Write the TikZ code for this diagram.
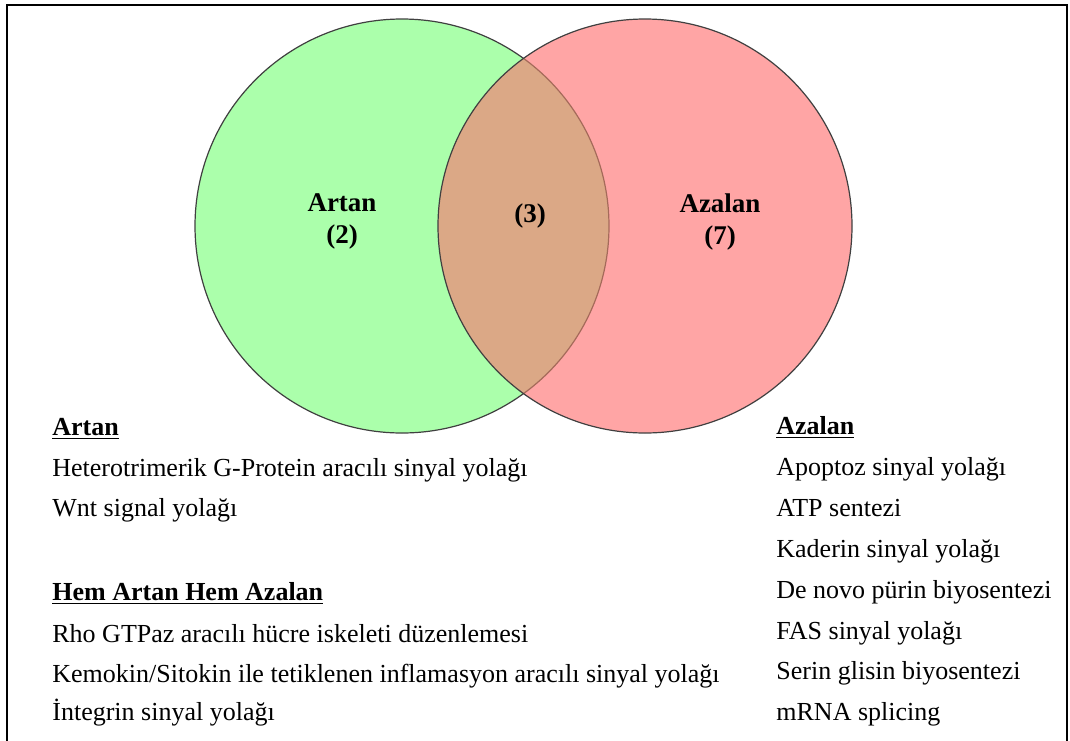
\documentclass[tikz,border=0pt]{standalone}
\usepackage{fontspec}
\setmainfont{Liberation Serif}
\definecolor{artanGreen}{HTML}{ABFFAB}
\definecolor{azalanRed}{HTML}{FFA5A5}
\definecolor{ortakMix}{HTML}{DBA886}
\definecolor{ortakEdge}{HTML}{A56A5A}
\tikzset{
  lbl/.style={font=\fontsize{13.5}{16}\selectfont\bfseries, align=center},
  item/.style={anchor=base west, inner sep=0pt, font=\fontsize{13}{15}\selectfont},
  head/.style={item, font=\fontsize{13}{15}\selectfont\bfseries}
}
\begin{document}
\begin{tikzpicture}[x=0.5pt,y=-0.5pt]
  \useasboundingbox (0,0) rectangle (1070,740);
  \begin{scope}
   \clip (0,0) rectangle (1070,740);
   \draw[line width=1pt] (7,5) rectangle (1067,760);
  \end{scope}
  % venn
  \draw[fill=artanGreen,draw=black!75,line width=0.6pt] (402,226) circle [radius=207];
  \fill[azalanRed] (645,226) circle [radius=207];
  \begin{scope}
   \clip (645,226) circle [radius=207];
   \fill[ortakMix] (402,226) circle [radius=207];
   \draw[ortakEdge,line width=0.6pt] (402,226) circle [radius=207];
  \end{scope}
  \draw[draw=black!75,line width=0.6pt] (645,226) circle [radius=207];
  \node[lbl] (artan) at (342,221) {Artan\\(2)};
  \node[lbl] (ortak) at (530,216) {(3)};
  \node[lbl] (azalan) at (720,222) {Azalan\\(7)};
  % lists
  \node[head] (hA) at (52,435) {\underline{Artan}};
  \node[item] (a1) at (52,476) {Heterotrimerik G-Protein aracılı sinyal yolağı};
  \node[item] (a2) at (52,516) {Wnt signal yolağı};
  \node[head] (hB) at (52,600) {\underline{Hem Artan Hem Azalan}};
  \node[item] (b1) at (52,642) {Rho GTPaz aracılı hücre iskeleti düzenlemesi};
  \node[item] (b2) at (52,682) {Kemokin/Sitokin ile tetiklenen inflamasyon aracılı sinyal yolağı};
  \node[item] (b3) at (52,720) {İntegrin sinyal yolağı};
  \node[head] (hC) at (776,434) {\underline{Azalan}};
  \node[item] (c1) at (776,475) {Apoptoz sinyal yolağı};
  \node[item] (c2) at (776,516) {ATP sentezi};
  \node[item] (c3) at (776,557) {Kaderin sinyal yolağı};
  \node[item] (c4) at (776,598) {De novo pürin biyosentezi};
  \node[item] (c5) at (776,639) {FAS sinyal yolağı};
  \node[item] (c6) at (776,679) {Serin glisin biyosentezi};
  \node[item] (c7) at (776,720) {mRNA splicing};
\end{tikzpicture}
\end{document}
